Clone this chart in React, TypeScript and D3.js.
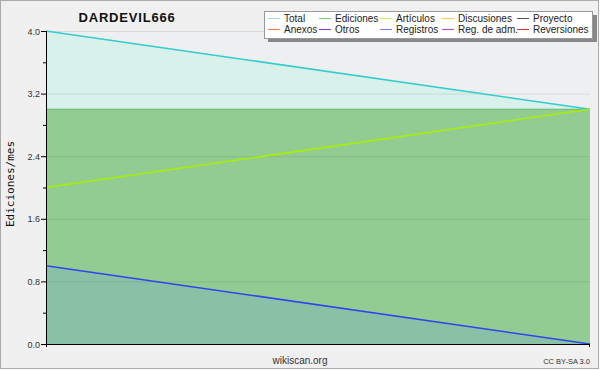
import React from "react";
import * as d3 from "d3";

const months = ["2023-01", "2023-02"];
const total = [4, 3];
const ediciones = [3, 3];
const articulos = [2, 3];
const registros = [1, 0];
const yTicks = [0, 0.8, 1.6, 2.4, 3.2, 4.0];
const yMinor = [0.4, 1.2, 2.0, 2.8, 3.6];
const legendRow1 = [
  { name: "Total", color: "#99dddd" },
  { name: "Ediciones", color: "#77cc77" },
  { name: "Artículos", color: "#ccee66" },
  { name: "Discusiones", color: "#ffcc44" },
  { name: "Proyecto", color: "#555555" },
];
const legendRow2 = [
  { name: "Anexos", color: "#ff7744" },
  { name: "Otros", color: "#8833cc" },
  { name: "Registros", color: "#7777ee" },
  { name: "Reg. de adm.", color: "#cc44cc" },
  { name: "Reversiones", color: "#dd3333" },
];
const legendX = [268, 319, 380, 442, 517];

export default function App() {
  const W = 600, H = 370;
  const x = d3.scalePoint<string>().domain(months).range([46, 590]);
  const y = d3.scaleLinear().domain([0, 4]).range([344, 31]);
  const idx = months.map((_, i) => i);
  const area = (vals: number[]) =>
    d3.area<number>().x((i) => x(months[i])!).y0(y(0)).y1((i) => y(vals[i]))(idx)!;
  const line = (vals: number[]) =>
    d3.line<number>().x((i) => x(months[i])!).y((i) => y(vals[i]))(idx)!;
  const font = "'Liberation Sans', sans-serif";
  return (
    <svg width={W} height={H} style={{ position: "absolute", left: 0, top: 0 }}>
      <rect x={0.5} y={0.5} width={W - 2} height={H - 2} fill="#f0f0f0" stroke="#aaaaaa" />
      <rect x={46} y={31} width={544} height={313} fill="#eeeff0" />
      <path d={area(total)} fill="#d9f1eb" />
      <path d={area(ediciones)} fill="#93cc93" />
      <path d={area(registros)} fill="#88c1a6" />
      {yTicks.slice(1).map((t) => (
        <line key={t} x1={46} x2={590} y1={y(t) + 0.5} y2={y(t) + 0.5} stroke="rgba(0,0,0,0.09)" />
      ))}
      <path d={line(ediciones)} fill="none" stroke="#66b866" strokeWidth={1} />
      <path d={line(total)} fill="none" stroke="#33cccc" strokeWidth={1.6} />
      <path d={line(articulos)} fill="none" stroke="#aaee00" strokeWidth={1.6} />
      <path d={line(registros)} fill="none" stroke="#3344ee" strokeWidth={1.6} />
      {/* axes */}
      <line x1={46.5} x2={46.5} y1={31} y2={347} stroke="#000" />
      <line x1={46} x2={590} y1={344.5} y2={344.5} stroke="#000" />
      <line x1={589.5} x2={589.5} y1={344} y2={347} stroke="#000" />
      {yTicks.map((t) => (
        <g key={t}>
          <line x1={41} x2={46} y1={y(t) + 0.5} y2={y(t) + 0.5} stroke="#000" />
          <text x={40} y={y(t) + 3.5} fontSize={9} fontFamily={font} textAnchor="end" fill="#333">
            {t.toFixed(1)}
          </text>
        </g>
      ))}
      {yMinor.map((t) => (
        <line key={t} x1={43} x2={46} y1={y(t) + 0.5} y2={y(t) + 0.5} stroke="#000" />
      ))}
      <text x={127} y={22} fontSize={13} fontWeight="bold" fontFamily={font} letterSpacing={0.8} textAnchor="middle" fill="#111">
        DARDEVIL666
      </text>
      <text transform="translate(14,184) rotate(-90)" fontSize={11} fontFamily="'DejaVu Sans Mono', monospace" textAnchor="middle" fill="#111">
        Ediciones/mes
      </text>
      <text x={300} y={364} fontSize={10} fontFamily={font} textAnchor="middle" fill="#333">wikiscan.org</text>
      <text x={590} y={364} fontSize={7.5} fontFamily={font} textAnchor="end" fill="#333">CC BY-SA 3.0</text>
      {/* legend */}
      <rect x={268} y={15} width={329} height={27} fill="#888888" />
      <rect x={264.5} y={11.5} width={328} height={27} fill="#ffffff" stroke="#999999" />
      {[legendRow1, legendRow2].map((row, r) =>
        row.map((item, i) => (
          <g key={item.name}>
            <line x1={legendX[i]} x2={legendX[i] + 12} y1={18.5 + r * 11} y2={18.5 + r * 11} stroke={item.color} />
            <text x={legendX[i] + 16} y={22 + r * 11} fontSize={10} fontFamily={font} fill="#222">
              {item.name}
            </text>
          </g>
        ))
      )}
    </svg>
  );
}
